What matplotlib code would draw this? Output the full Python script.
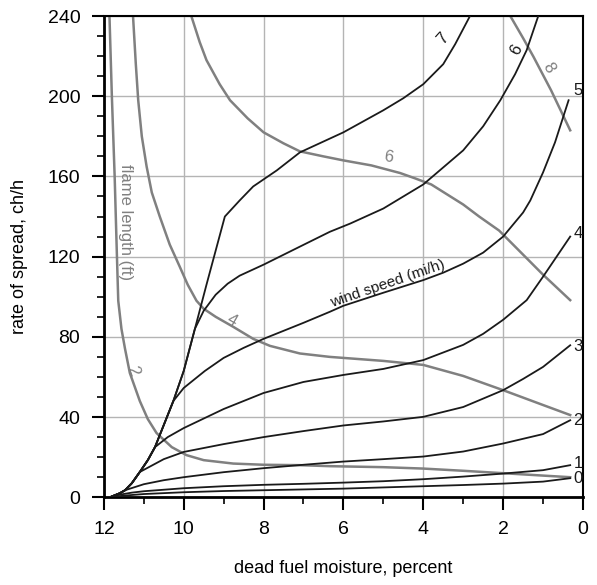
import matplotlib
matplotlib.use("Agg")
import matplotlib.pyplot as plt
from matplotlib.ticker import MultipleLocator

plt.rcParams["font.family"] = ["Liberation Sans", "DejaVu Sans"]

# shared high-moisture branch (wind limit), all wind curves start on it
env_x = [11.85, 11.6, 11.47, 11.3, 11.1, 10.9, 10.72, 10.5, 10.26, 10.0, 9.72, 9.43, 9.2, 8.97]
env_y = [0, 2, 3.5, 7, 12.6, 18.5, 25, 36, 48, 63, 84, 106, 123, 140]
# moisture where each wind speed curve leaves the shared branch
branch_x = [11.85, 11.85, 11.47, 11.1, 10.72, 10.26, 9.72, 8.97]

# wind speed curves (mi/h), part after leaving the shared branch
ws0_x = [11.5, 11.0, 10.0, 9.0, 8.0, 7.0, 6.0, 5.0, 4.0, 3.0, 2.0, 1.0, 0.32]
ws0_y = [0.8, 1.6, 2.5, 3.1, 3.5, 3.9, 4.3, 4.9, 5.5, 6.1, 6.8, 7.8, 9.5]
ws1_x = [11.6, 11.3, 11.0, 10.0, 9.0, 8.0, 7.0, 6.0, 5.0, 4.0, 3.0, 2.0, 1.0, 0.32]
ws1_y = [1.3, 2.3, 3.0, 4.5, 5.5, 6.2, 6.7, 7.3, 8.0, 9.0, 10.3, 11.8, 13.5, 16]
ws2_x = [11.0, 10.5, 10.0, 9.0, 8.0, 7.0, 6.0, 5.0, 4.0, 3.0, 2.0, 1.0, 0.32]
ws2_y = [6.5, 8.5, 10, 12.5, 14.5, 16.2, 17.8, 19, 20.3, 22.8, 26.8, 31.5, 38.4]
ws3_x = [10.5, 10.0, 9.0, 8.0, 7.0, 6.0, 5.0, 4.0, 3.0, 2.0, 1.5, 1.0, 0.32]
ws3_y = [19, 22.6, 26.5, 30, 33, 35.8, 37.8, 40.1, 45, 53.4, 59, 65, 75.8]
ws4_x = [10.4, 10.0, 9.0, 8.0, 7.0, 6.0, 5.0, 4.0, 3.0, 2.5, 2.0, 1.41, 1.0, 0.32]
ws4_y = [30, 34.5, 44, 52, 57.5, 61, 64, 68.4, 76, 81.5, 88.5, 98.3, 110, 130]
ws5_x = [10.0, 9.47, 9.0, 8.5, 8.0, 7.0, 6.34, 6.0, 5.0, 4.0, 3.5, 3.0, 2.5, 2.0, 1.5, 1.32, 1.0, 0.7, 0.36]
ws5_y = [54.5, 63, 69.5, 74.5, 79, 87, 92.5, 95.5, 102, 108.3, 112, 116.5, 122, 130, 142, 148, 162, 177, 198]
ws6_x = [9.5, 9.2, 8.9, 8.6, 8.0, 7.09, 6.34, 5.83, 5.0, 4.0, 3.0, 2.5, 2.07, 1.7, 1.41, 1.12]
ws6_y = [93, 101, 106.5, 110.5, 116, 125, 132.4, 136.5, 144, 156, 173, 185, 198, 211, 223, 240]
ws7_x = [8.6, 8.26, 7.67, 7.09, 6.0, 5.0, 4.5, 4.0, 3.5, 3.2, 2.83]
ws7_y = [148, 155, 163, 172, 182, 193, 199, 206, 216, 226, 240]

# flame length curves (ft)
fl2_x = [11.86, 11.8, 11.73, 11.68, 11.64, 11.56, 11.47, 11.35, 11.1, 10.9, 10.68, 10.3, 9.93,
         9.5, 8.76, 8.0, 7.09, 6.34, 5.0, 4.0, 3.0, 2.0, 1.0, 0.32]
fl2_y = [240, 200, 160, 125, 98, 84, 74, 62, 48, 39, 32, 25, 21,
         18.5, 16.8, 16.2, 16, 15.5, 15, 14.3, 13.2, 12, 10.8, 10]
fl4_x = [11.27, 11.2, 11.14, 11.05, 10.93, 10.8, 10.6, 10.35, 10.1, 9.9, 9.68, 9.5, 9.2, 8.76,
         8.26, 7.84, 7.09, 6.34, 5.0, 4.0, 3.0, 2.0, 1.0, 0.32]
fl4_y = [240, 216, 198, 180, 165, 152, 140, 126, 115, 106, 98, 94, 90, 85,
         79, 75.5, 71.7, 70, 68, 66, 60.5, 53.4, 46, 41]
fl6_x = [9.81, 9.6, 9.43, 9.1, 8.84, 8.4, 8.0, 7.5, 7.09, 6.5, 6.0, 5.3, 4.58, 4.2, 3.8,
         3.0, 2.6, 2.1, 1.5, 1.0, 0.32]
fl6_y = [240, 227, 218, 206, 198, 189, 182, 176.5, 172.5, 170, 168, 165.5, 161.7, 159, 156,
         146, 140, 133, 121, 111, 98.3]
fl8_x = [1.82, 1.5, 1.24, 0.8, 0.32]
fl8_y = [240, 229, 219.7, 203, 183]

wind_tails = [(ws0_x, ws0_y), (ws1_x, ws1_y), (ws2_x, ws2_y), (ws3_x, ws3_y),
              (ws4_x, ws4_y), (ws5_x, ws5_y), (ws6_x, ws6_y), (ws7_x, ws7_y)]
flames = [(fl2_x, fl2_y), (fl4_x, fl4_y), (fl6_x, fl6_y), (fl8_x, fl8_y)]

# end labels
wind_lab = ["0", "1", "2", "3", "4", "5"]
wind_lab_y = [9.3, 16.8, 38.4, 75, 131.6, 203]

GRAY = "#808080"

fig = plt.figure(figsize=(5.97, 5.85), dpi=100)
ax = fig.add_axes([0.174, 0.150, 0.8025, 0.8226])

for bx, (tx, ty) in zip(branch_x, wind_tails):
    xs = [x for x in env_x if x >= bx] + tx
    ys = [y for x, y in zip(env_x, env_y) if x >= bx] + ty
    ax.plot(xs, ys, color="#1a1a1a", lw=1.3, zorder=3)

for fx, fy in flames:
    ax.plot(fx, fy, color=GRAY, lw=1.8, zorder=2)

for lab, y in zip(wind_lab, wind_lab_y):
    ax.text(0.24, y, lab, fontsize=12, ha="left", va="center", color="#1a1a1a")
ax.text(1.66, 223, "6", fontsize=12, rotation=62, ha="center", va="center", color="#1a1a1a")
ax.text(3.5, 229, "7", fontsize=12, rotation=48, ha="center", va="center", color="#1a1a1a")
ax.text(4.88, 106.5, "wind speed (mi/h)", fontsize=11, rotation=19,
        ha="center", va="center", color="#1a1a1a")

ax.text(11.27, 63, "2", fontsize=12, rotation=-70, ha="center", va="center", color=GRAY)
ax.text(8.8, 88, "4", fontsize=12, rotation=-30, ha="center", va="center", color=GRAY)
ax.text(4.88, 169.5, "6", fontsize=12, rotation=-8, ha="center", va="center", color=GRAY)
ax.text(0.87, 214, "8", fontsize=12, rotation=-60, ha="center", va="center", color=GRAY)
ax.text(11.47, 137, "flame length (ft)", fontsize=12, rotation=-90,
        ha="center", va="center", color=GRAY)

ax.set_xlim(12, 0)
ax.set_ylim(0, 240)
ax.xaxis.set_major_locator(MultipleLocator(2))
ax.xaxis.set_minor_locator(MultipleLocator(1))
ax.yaxis.set_major_locator(MultipleLocator(40))
ax.yaxis.set_minor_locator(MultipleLocator(10))
ax.grid(True, which="major", color="#b4b4b4", lw=1.0, zorder=0)
ax.set_axisbelow(True)
ax.tick_params(which="major", direction="out", length=9, width=1.5, labelsize=14, pad=8)
ax.tick_params(which="minor", direction="out", length=5, width=1.2)
for side in ("left", "bottom"):
    ax.spines[side].set_linewidth(2.0)
for side in ("right", "top"):
    ax.spines[side].set_linewidth(1.5)

ax.set_xlabel("dead fuel moisture, percent", fontsize=13, labelpad=16)
ax.set_ylabel("rate of spread, ch/h", fontsize=13, labelpad=14)

fig.savefig("out.png", dpi=100)
